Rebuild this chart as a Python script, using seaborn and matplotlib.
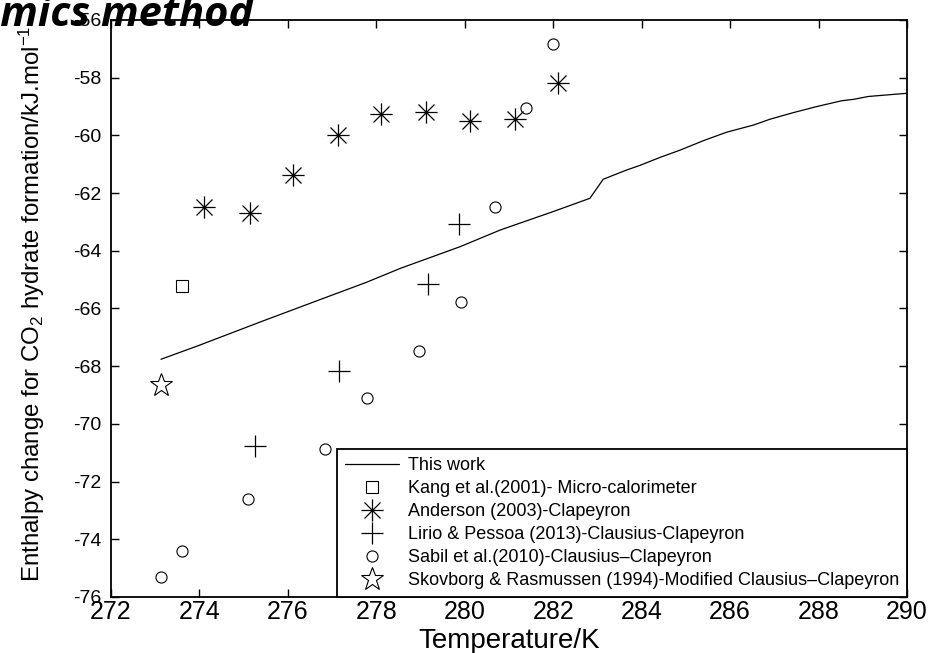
import numpy as np
import pandas as pd
import matplotlib
matplotlib.use("Agg")
import matplotlib.pyplot as plt
from matplotlib.path import Path
import seaborn as sns

# ---- data ----
this_T = [273.13, 273.97, 275.44, 276.80, 277.78, 278.54, 279.89, 280.80, 282.00,
          282.83, 283.13, 283.66, 283.96, 284.42, 284.87, 285.40, 285.92, 286.53,
          286.90, 287.43, 287.96, 288.52, 288.79, 289.13, 290.00]
this_H = [-67.76, -67.29, -66.43, -65.65, -65.09, -64.61, -63.86, -63.28, -62.64,
          -62.18, -61.52, -61.20, -61.04, -60.76, -60.51, -60.18, -59.89, -59.64,
          -59.44, -59.21, -59.00, -58.80, -58.75, -58.65, -58.54]
kang_T = [273.61]
kang_H = [-65.21]
anderson_T = [274.11, 275.14, 276.12, 277.13, 278.11, 279.13, 280.12, 281.13, 282.11]
anderson_H = [-62.48, -62.69, -61.38, -60.00, -59.27, -59.19, -59.49, -59.42, -58.18]
lirio_T = [275.26, 277.16, 279.17, 279.87]
lirio_H = [-70.77, -68.17, -65.16, -63.08]
sabil_T = [273.12, 273.61, 275.10, 276.84, 277.80, 278.97, 279.92, 280.68, 281.38, 281.99]
sabil_H = [-75.31, -74.41, -72.61, -70.86, -69.11, -67.46, -65.76, -62.48, -59.05, -56.83]
skov_T = [273.12]
skov_H = [-68.65]

labels = ["This work",
          "Kang et al.(2001)- Micro-calorimeter",
          "Anderson (2003)-Clapeyron",
          "Lirio & Pessoa (2013)-Clausius-Clapeyron",
          "Sabil et al.(2010)-Clausius\u2013Clapeyron",
          "Skovborg & Rasmussen (1994)-Modified Clausius\u2013Clapeyron"]
x_ticks = [272, 274, 276, 278, 280, 282, 284, 286, 288, 290]
y_ticks = [-76, -74, -72, -70, -68, -66, -64, -62, -60, -58, -56]

sns.set_theme(style="white")
plt.rcParams['font.family'] = ['Liberation Sans', 'DejaVu Sans']
plt.rcParams['mathtext.fontset'] = 'custom'
plt.rcParams['mathtext.rm'] = 'Liberation Sans'
plt.rcParams['mathtext.it'] = 'Liberation Sans'

fig = plt.figure(figsize=(9.44, 6.53), dpi=100)
ax = fig.add_axes([111/944, 1-597/653, 796/944, 577/653])

# MATLAB-like asterisk marker (plus + cross)
MV, LT = Path.MOVETO, Path.LINETO
ast = Path([(-1, 0), (1, 0), (0, -1), (0, 1), (-0.72, -0.72), (0.72, 0.72),
            (-0.72, 0.72), (0.72, -0.72)], [MV, LT] * 4)

common = dict(sort=False, estimator=None, ax=ax, color='black')
sns.lineplot(x=this_T, y=this_H, linewidth=0.9, label=labels[0], **common)
sns.lineplot(x=kang_T, y=kang_H, linestyle='', marker='s', markersize=8.5,
             markerfacecolor='none', markeredgecolor='black', markeredgewidth=0.8,
             label=labels[1], **common)
sns.lineplot(x=anderson_T, y=anderson_H, linestyle='', marker=ast, markersize=16,
             markerfacecolor='none', markeredgecolor='black', markeredgewidth=0.9,
             label=labels[2], **common)
sns.lineplot(x=lirio_T, y=lirio_H, linestyle='', marker='+', markersize=16,
             markeredgecolor='black', markeredgewidth=0.9,
             label=labels[3], **common)
sns.lineplot(x=sabil_T, y=sabil_H, linestyle='', marker='o', markersize=8,
             markerfacecolor='none', markeredgecolor='black', markeredgewidth=0.8,
             label=labels[4], **common)
sns.lineplot(x=skov_T, y=skov_H, linestyle='', marker='*', markersize=17,
             markerfacecolor='none', markeredgecolor='black', markeredgewidth=0.8,
             label=labels[5], **common)

ax.set_xlim(272, 290)
ax.set_ylim(-76, -56)
ax.set_xticks(x_ticks)
ax.set_yticks(y_ticks)
ax.set_xticklabels([str(t) for t in x_ticks], fontsize=18)
ax.set_yticklabels([str(t) for t in y_ticks], fontsize=14)
ax.tick_params(axis='both', direction='in', length=6, width=1, color='black',
               top=True, right=True, bottom=True, left=True, labelcolor='black')
ax.tick_params(axis='x', pad=2)
ax.tick_params(axis='y', pad=7)
for sp in ax.spines.values():
    sp.set_color('black')
    sp.set_linewidth(1.3)

ax.set_xlabel("Temperature/K", fontsize=20, color='black')
ax.xaxis.set_label_coords(0.5, -0.053)
ax.set_ylabel(r"Enthalpy change for CO$_2$ hydrate formation/kJ.mol$^{-1}$",
              fontsize=17.3, color='black')
ax.yaxis.set_label_coords(-0.081, 0.508)

leg = ax.legend(loc='lower right', borderaxespad=0, fontsize=13, frameon=True,
                fancybox=False, edgecolor='black', framealpha=1, numpoints=1,
                handlelength=2.95, handletextpad=0.5, labelspacing=0.33,
                borderpad=0.45)
leg.get_frame().set_linewidth(1.3)
for t in leg.get_texts():
    t.set_color('black')

fig.text(253/944, 1-26/653, "Thermodynamics method", ha='right', va='baseline',
         fontsize=30, fontweight='bold', fontstyle='italic', family='Open Sans',
         color='black', zorder=10)

fig.savefig("out.png", dpi=100, facecolor='white')
